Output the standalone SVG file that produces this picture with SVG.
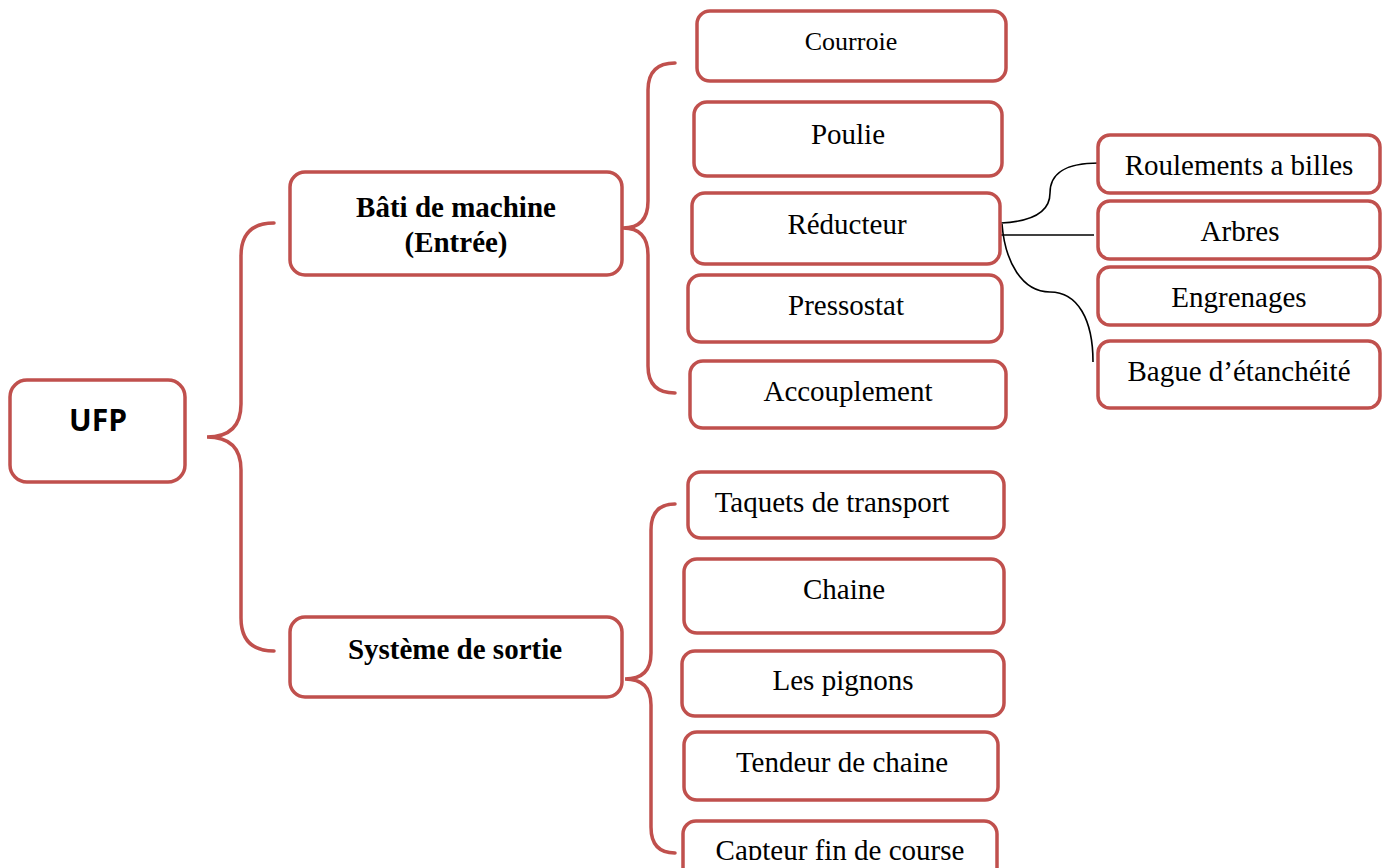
<svg xmlns="http://www.w3.org/2000/svg" width="1387" height="868" viewBox="0 0 1387 868">
  <style>
    .box { fill: #ffffff; stroke: #c0504d; stroke-width: 3.5; }
    .brace { fill: none; stroke: #c0504d; stroke-width: 3.5; stroke-linecap: round; }
    .link { fill: none; stroke: #000000; stroke-width: 1.6; }
    .t { font-family: "Liberation Serif", "Times New Roman", serif; font-size: 29px; fill: #000; text-anchor: middle; }
    .tb { font-family: "Liberation Serif", "Times New Roman", serif; font-size: 29px; font-weight: bold; fill: #000; text-anchor: middle; }
    .root { font-family: "Open Sans", "Liberation Sans", sans-serif; font-size: 30px; font-weight: bold; fill: #000; text-anchor: middle; }
  </style>
  <defs>
    <clipPath id="pageEdge"><rect x="0" y="0" width="1387" height="860"/></clipPath>
  </defs>
  <rect width="1387" height="868" fill="#ffffff"/>

  <!-- connectors: braces and branch lines -->
  <g id="connectors">
    <path class="brace" d="M274,223 Q241,223 241,256 V404 Q241,437 207,437 Q241,437 241,470 V618 Q241,651 274,651"/>
    <path class="brace" d="M675,63 Q648,63 648,90 V201 Q648,228 623,228 Q648,228 648,255 V366 Q648,393 675,393"/>
    <path class="brace" d="M675,504 Q651,504 651,530 V653 Q651,679 625,679 Q651,679 651,705 V827 Q651,853 675,853"/>
    <path class="link" d="M1001,223 C1040,221 1050,208 1050,193 C1050,175 1062,163 1099,163"/>
    <path class="link" d="M997,235 H1094"/>
    <path class="link" d="M1002,224 C1005,262 1022,292 1050,292 C1078,292 1093,320 1093,362"/>
  </g>

  <g id="ufp">
    <rect class="box" x="10" y="380" width="175" height="102" rx="17"/>
    <text class="root" x="98" y="431">UFP</text>
  </g>

  <g id="bati">
    <rect class="box" x="290" y="172" width="332" height="103" rx="15"/>
    <text class="tb" x="456" y="217">Bâti de machine</text>
    <text class="tb" x="456" y="252">(Entrée)</text>
  </g>

  <g id="sortie">
    <rect class="box" x="290" y="617" width="332" height="80" rx="15"/>
    <text class="tb" x="455" y="659">Système de sortie</text>
  </g>

  <g id="courroie">
    <rect class="box" x="697" y="11" width="309" height="70" rx="13"/>
    <text class="t" x="851" y="50" style="font-size:26px">Courroie</text>
  </g>
  <g id="poulie">
    <rect class="box" x="694" y="102" width="308" height="74" rx="13"/>
    <text class="t" x="848" y="144">Poulie</text>
  </g>
  <g id="reducteur">
    <rect class="box" x="692" y="193" width="308" height="71" rx="13"/>
    <text class="t" x="847" y="234">Réducteur</text>
  </g>
  <g id="pressostat">
    <rect class="box" x="688" y="275" width="314" height="67" rx="13"/>
    <text class="t" x="846" y="315">Pressostat</text>
  </g>
  <g id="accouplement">
    <rect class="box" x="690" y="361" width="316" height="67" rx="13"/>
    <text class="t" x="848" y="401">Accouplement</text>
  </g>

  <g id="roulements">
    <rect class="box" x="1098" y="135" width="282" height="58" rx="12"/>
    <text class="t" x="1239" y="175">Roulements a billes</text>
  </g>
  <g id="arbres">
    <rect class="box" x="1098" y="201" width="282" height="58" rx="12"/>
    <text class="t" x="1240" y="241">Arbres</text>
  </g>
  <g id="engrenages">
    <rect class="box" x="1098" y="267" width="282" height="58" rx="12"/>
    <text class="t" x="1239" y="307">Engrenages</text>
  </g>
  <g id="bague">
    <rect class="box" x="1098" y="341" width="282" height="67" rx="12"/>
    <text class="t" x="1239" y="381">Bague d’étanchéité</text>
  </g>

  <g id="taquets">
    <rect class="box" x="688" y="472" width="316" height="66" rx="13"/>
    <text class="t" x="832" y="512">Taquets de transport</text>
  </g>
  <g id="chaine">
    <rect class="box" x="684" y="559" width="320" height="74" rx="13"/>
    <text class="t" x="844" y="599">Chaine</text>
  </g>
  <g id="pignons">
    <rect class="box" x="682" y="651" width="322" height="65" rx="13"/>
    <text class="t" x="843" y="690">Les pignons</text>
  </g>
  <g id="tendeur">
    <rect class="box" x="684" y="732" width="314" height="68" rx="13"/>
    <text class="t" x="842" y="772">Tendeur de chaine</text>
  </g>
  <g id="capteur">
    <rect class="box" x="683" y="821" width="314" height="70" rx="13"/>
    <text class="t" x="840" y="860" clip-path="url(#pageEdge)">Capteur fin de course</text>
  </g>
</svg>
